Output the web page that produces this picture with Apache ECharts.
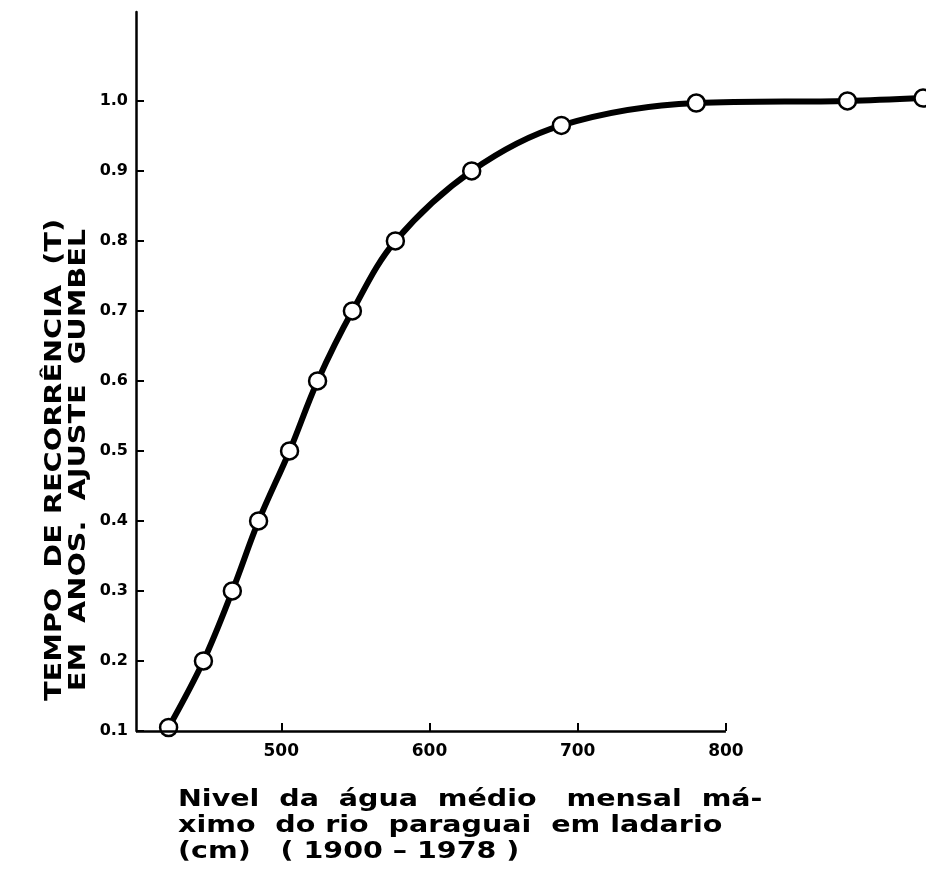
<!DOCTYPE html>
<html>
<head>
<meta charset="utf-8">
<script src="https://cdn.jsdelivr.net/npm/echarts@6/dist/echarts.min.js"></script>
<style>
html,body{margin:0;padding:0;background:#fff;}
#c{width:926px;height:875px;}
</style>
</head>
<body>
<div id="c"></div>
<script>
// Data
const nivel = [424, 447.5, 467, 484.7, 505.6, 524.5, 548, 577, 628.5, 689, 780, 882, 933];
const tempo = [0.105, 0.2, 0.3, 0.4, 0.5, 0.6, 0.7, 0.8, 0.9, 0.965, 0.997, 1.0, 1.004];
const xTicks = [500, 600, 700, 800];
const yTicks = [0.1, 0.2, 0.3, 0.4, 0.5, 0.6, 0.7, 0.8, 0.9, 1.0];
const xAxisSpan = [402, 800];
const yTitle = ['TEMPO  DE RECORRÊNCIA  (T)', 'EM  ANOS.  AJUSTE  GUMBEL'];
const xTitle = ['Nivel  da  água  médio   mensal  má-', 'ximo  do rio  paraguai  em ladario', '(cm)   ( 1900 – 1978 )'];

const FONT = '"DejaVu Sans", sans-serif';
const chart = echarts.init(document.getElementById('c'), null, {renderer: 'canvas'});
const pts = nivel.map((x, i) => [x, tempo[i]]);

chart.setOption({
  animation: false,
  backgroundColor: '#fff',
  grid: {left: 136, right: 0, top: 12, bottom: 144, containLabel: false},
  xAxis: {
    type: 'value', min: 402, max: 935,
    axisLine: {show: false},
    axisTick: {show: true, inside: true, length: 8, lineStyle: {color: '#000', width: 2}, customValues: xTicks},
    axisLabel: {color: '#000', fontSize: 17, fontWeight: 'bold', fontFamily: FONT, margin: 12, customValues: xTicks},
    splitLine: {show: false}
  },
  yAxis: {
    type: 'value', min: 0.1, max: 1.127,
    axisLine: {show: true, onZero: false, lineStyle: {color: '#000', width: 2.5}},
    axisTick: {show: true, inside: true, length: 8, lineStyle: {color: '#000', width: 2}, customValues: yTicks},
    axisLabel: {color: '#000', fontSize: 16, fontWeight: 'bold', fontFamily: FONT, margin: 8,
      customValues: yTicks, formatter: v => v.toFixed(1)},
    splitLine: {show: false}
  },
  series: [{
    type: 'line',
    data: pts,
    smooth: 0.35,
    clip: false,
    symbol: 'circle',
    symbolSize: 17,
    lineStyle: {color: '#000', width: 6},
    itemStyle: {color: '#fff', borderColor: '#000', borderWidth: 2.5},
    markLine: {
      silent: true,
      symbol: ['none', 'none'],
      label: {show: false},
      lineStyle: {color: '#000', width: 2.5, type: 'solid'},
      data: [[{coord: [xAxisSpan[0], 0.1]}, {coord: [xAxisSpan[1], 0.1]}]]
    }
  }],
  graphic: [
    {type: 'text', x: 55, y: 460, rotation: Math.PI / 2, scaleX: 1.25, z: 10,
      style: {text: yTitle[0], font: 'bold 23px ' + FONT, fill: '#000', align: 'center', verticalAlign: 'middle'}},
    {type: 'text', x: 79, y: 460, rotation: Math.PI / 2, scaleX: 1.25, z: 10,
      style: {text: yTitle[1], font: 'bold 23px ' + FONT, fill: '#000', align: 'center', verticalAlign: 'middle'}},
    {type: 'text', x: 178, y: 800, scaleX: 1.24, z: 10,
      style: {text: xTitle[0], font: 'bold 23px ' + FONT, fill: '#000', align: 'left', verticalAlign: 'middle'}},
    {type: 'text', x: 178, y: 826, scaleX: 1.24, z: 10,
      style: {text: xTitle[1], font: 'bold 23px ' + FONT, fill: '#000', align: 'left', verticalAlign: 'middle'}},
    {type: 'text', x: 178, y: 852, scaleX: 1.24, z: 10,
      style: {text: xTitle[2], font: 'bold 23px ' + FONT, fill: '#000', align: 'left', verticalAlign: 'middle'}}
  ]
});
</script>
</body>
</html>
